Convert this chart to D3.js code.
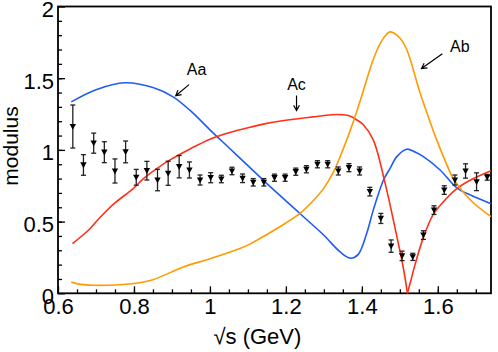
<!DOCTYPE html>
<html>
<head>
<meta charset="utf-8">
<script src="https://cdn.jsdelivr.net/npm/d3@7"></script>
<style>
  body { margin: 0; background: #fff; }
  svg { display: block; font-family: "Liberation Sans", Arial, sans-serif; }
</style>
</head>
<body>
<svg id="chart"></svg>
<script>
// curve Aa (blue)
var aaX = [0.635, 0.70, 0.776, 0.85, 0.903, 0.95, 1.0, 1.05, 1.1, 1.15, 1.2, 1.25, 1.3, 1.342, 1.369, 1.39, 1.413, 1.43, 1.457, 1.474, 1.492, 1.518, 1.54, 1.562, 1.606, 1.65, 1.69, 1.74];
var aaY = [1.335, 1.42, 1.468, 1.435, 1.37, 1.27, 1.14, 1.015, 0.89, 0.765, 0.645, 0.525, 0.405, 0.29, 0.245, 0.27, 0.42, 0.58, 0.79, 0.87, 0.953, 1.005, 0.985, 0.953, 0.86, 0.735, 0.68, 0.625];

// curve Ac (red), cusp at 1.52
var acX = [0.638, 0.68, 0.711, 0.75, 0.798, 0.825, 0.86, 0.895, 0.95, 1.0, 1.05, 1.1, 1.15, 1.21, 1.27, 1.32, 1.35, 1.37, 1.386, 1.404, 1.43, 1.461, 1.487, 1.509, 1.52, 1.53, 1.54, 1.562, 1.588, 1.61, 1.65, 1.69, 1.74];
var acY = [0.347, 0.44, 0.53, 0.63, 0.73, 0.80, 0.87, 0.93, 1.01, 1.075, 1.12, 1.155, 1.185, 1.21, 1.23, 1.245, 1.245, 1.235, 1.21, 1.175, 1.07, 0.77, 0.46, 0.18, 0.0, 0.1, 0.2, 0.39, 0.55, 0.625, 0.73, 0.795, 0.855];
var acCusp = 24;

// curve Ab (orange)
var abX = [0.635, 0.66, 0.693, 0.75, 0.798, 0.85, 0.93, 1.002, 1.079, 1.105, 1.15, 1.2, 1.237, 1.268, 1.299, 1.325, 1.35, 1.378, 1.40, 1.43, 1.45, 1.474, 1.50, 1.518, 1.553, 1.575, 1.597, 1.62, 1.641, 1.69, 1.74];
var abY = [0.078, 0.062, 0.056, 0.058, 0.068, 0.095, 0.184, 0.243, 0.313, 0.343, 0.41, 0.49, 0.557, 0.635, 0.73, 0.845, 1.0, 1.2, 1.38, 1.63, 1.75, 1.823, 1.78, 1.70, 1.40, 1.23, 1.07, 0.92, 0.80, 0.64, 0.535];

// data points with errors
var ptX = [0.639, 0.667, 0.694, 0.722, 0.750, 0.778, 0.806, 0.834, 0.862, 0.890, 0.919, 0.946, 0.974, 1.002, 1.030, 1.058, 1.086, 1.114, 1.142, 1.170, 1.198, 1.226, 1.254, 1.283, 1.310, 1.338, 1.366, 1.394, 1.421, 1.450, 1.477, 1.506, 1.534, 1.562, 1.590, 1.617, 1.645, 1.673, 1.702, 1.730];
var ptY = [1.163, 0.895, 1.047, 0.984, 0.853, 0.986, 0.809, 0.855, 0.790, 0.837, 0.883, 0.860, 0.790, 0.806, 0.797, 0.853, 0.802, 0.774, 0.774, 0.806, 0.806, 0.848, 0.865, 0.900, 0.900, 0.853, 0.876, 0.853, 0.709, 0.522, 0.329, 0.261, 0.254, 0.406, 0.580, 0.720, 0.790, 0.853, 0.778, 0.809];
var ptErr = [0.150, 0.072, 0.070, 0.073, 0.084, 0.076, 0.055, 0.065, 0.075, 0.084, 0.078, 0.056, 0.035, 0.035, 0.026, 0.026, 0.030, 0.026, 0.026, 0.025, 0.025, 0.025, 0.025, 0.025, 0.025, 0.028, 0.028, 0.028, 0.030, 0.035, 0.043, 0.033, 0.025, 0.030, 0.030, 0.030, 0.035, 0.050, 0.062, 0.020];

// ticks
var xTicks = [0.6, 0.8, 1.0, 1.2, 1.4, 1.6];
var yTicks = [0, 0.5, 1, 1.5, 2];

var svgWidth = 498;
var svgHeight = 352;
var margin = {top: 6.5, right: 7, bottom: 58.7, left: 58};
var w = svgWidth - margin.left - margin.right;
var h = svgHeight - margin.top - margin.bottom;

var svg = d3.select('#chart')
	.attr('width', svgWidth)
	.attr('height', svgHeight);

var g = svg.append('g')
	.attr('transform', 'translate(' + margin.left + ',' + margin.top + ')');

var xScale = d3.scaleLinear().domain([0.6, 1.74]).range([0, w]);
var yScale = d3.scaleLinear().domain([0, 2]).range([h, 0]);

// minor ticks
g.append('g')
	.attr('transform', 'translate(0,' + h + ')')
	.call(d3.axisBottom(xScale).tickValues(d3.range(0.65, 1.74, 0.05)).tickSize(-4).tickFormat(''));
g.append('g')
	.call(d3.axisLeft(yScale).tickValues(d3.range(0.1, 2, 0.1)).tickSize(-4).tickFormat(''));

// major ticks
var xAxis = g.append('g')
	.attr('transform', 'translate(0,' + h + ')')
	.call(d3.axisBottom(xScale).tickValues(xTicks).tickSize(-7).tickPadding(6)
		.tickFormat(d => d3.format('~g')(d)));
var yAxis = g.append('g')
	.call(d3.axisLeft(yScale).tickValues(yTicks).tickSize(-7).tickPadding(4)
		.tickFormat(d => d3.format('~g')(d)));

svg.selectAll('.domain').remove();
svg.selectAll('.tick line').attr('stroke', '#000').attr('stroke-width', 1.3);
xAxis.selectAll('text').attr('font-size', 22).attr('fill', '#000').attr('dy', '0.71em').attr('y', 5);
yAxis.selectAll('text').attr('font-size', 22).attr('fill', '#000').attr('dy', '0.45em');

// frame
g.append('rect')
	.attr('width', w)
	.attr('height', h)
	.attr('fill', 'none')
	.attr('stroke', '#000')
	.attr('stroke-width', 1.8);

// curves
var line = d3.line()
	.x(d => xScale(d[0]))
	.y(d => yScale(d[1]))
	.curve(d3.curveCatmullRom.alpha(0.5));

function pairs(xs, ys) {
	return xs.map((v, i) => [v, ys[i]]);
}

var acPts = pairs(acX, acY);
var curves = [
	{pts: pairs(aaX, aaY), color: '#1f5cf5'},
	{pts: acPts.slice(0, acCusp + 1), color: '#ff3019'},
	{pts: acPts.slice(acCusp), color: '#ff3019'},
	{pts: pairs(abX, abY), color: '#ff9a00'}
];

g.selectAll('path.curve')
	.data(curves)
	.enter()
	.append('path')
	.attr('class', 'curve')
	.attr('d', c => line(c.pts))
	.attr('fill', 'none')
	.attr('stroke', c => c.color)
	.attr('stroke-width', 1.6);

// points with error bars
var pts = ptX.map((v, i) => ({x: v, y: ptY[i], e: ptErr[i]}));

var pg = g.selectAll('g.pt')
	.data(pts)
	.enter()
	.append('g')
	.attr('class', 'pt')
	.attr('transform', d => 'translate(' + xScale(d.x) + ',' + yScale(d.y) + ')');

pg.append('line')
	.attr('y1', d => yScale(d.y + d.e) - yScale(d.y))
	.attr('y2', d => yScale(d.y - d.e) - yScale(d.y))
	.attr('stroke', '#222')
	.attr('stroke-width', 1.3);
pg.append('line')
	.attr('x1', -2.5).attr('x2', 2.5)
	.attr('y1', d => yScale(d.y + d.e) - yScale(d.y))
	.attr('y2', d => yScale(d.y + d.e) - yScale(d.y))
	.attr('stroke', '#222').attr('stroke-width', 1.3);
pg.append('line')
	.attr('x1', -2.5).attr('x2', 2.5)
	.attr('y1', d => yScale(d.y - d.e) - yScale(d.y))
	.attr('y2', d => yScale(d.y - d.e) - yScale(d.y))
	.attr('stroke', '#222').attr('stroke-width', 1.3);
pg.append('path')
	.attr('d', 'M-3.2,-2.6L3.2,-2.6L0,3.2Z')
	.attr('fill', '#000');

// annotations (data units)
var notes = [
	{text: 'Aa', tx: 0.965, ty: 1.52, ax1: 0.945, ay1: 1.455, ax2: 0.91, ay2: 1.378},
	{text: 'Ac', tx: 1.228, ty: 1.42, ax1: 1.228, ay1: 1.38, ax2: 1.228, ay2: 1.275},
	{text: 'Ab', tx: 1.658, ty: 1.68, ax1: 1.612, ay1: 1.67, ax2: 1.557, ay2: 1.567}
];

g.selectAll('text.note')
	.data(notes)
	.enter()
	.append('text')
	.attr('class', 'note')
	.attr('x', d => xScale(d.tx))
	.attr('y', d => yScale(d.ty))
	.attr('text-anchor', 'middle')
	.attr('font-size', 16)
	.text(d => d.text);

g.selectAll('path.arrow')
	.data(notes)
	.enter()
	.append('path')
	.attr('class', 'arrow')
	.attr('d', d => {
		var x1 = xScale(d.ax1), y1 = yScale(d.ay1);
		var x2 = xScale(d.ax2), y2 = yScale(d.ay2);
		var a = Math.atan2(y2 - y1, x2 - x1);
		var L = 6, s = 0.5;
		var p1 = [x2 - L * Math.cos(a - s), y2 - L * Math.sin(a - s)];
		var p2 = [x2 - L * Math.cos(a + s), y2 - L * Math.sin(a + s)];
		return 'M' + x1 + ',' + y1 + 'L' + x2 + ',' + y2 +
			'M' + p1 + 'L' + x2 + ',' + y2 + 'L' + p2;
	})
	.attr('fill', 'none')
	.attr('stroke', '#000')
	.attr('stroke-width', 1.2);

// axis titles
svg.append('text')
	.attr('x', margin.left + xScale(1.125))
	.attr('y', 344)
	.attr('text-anchor', 'middle')
	.attr('font-size', 22)
	.text('√s (GeV)');

svg.append('text')
	.attr('transform', 'translate(18,' + 146 + ') rotate(-90)')
	.attr('text-anchor', 'middle')
	.attr('font-size', 21)
	.text('modulus');
</script>
</body>
</html>
